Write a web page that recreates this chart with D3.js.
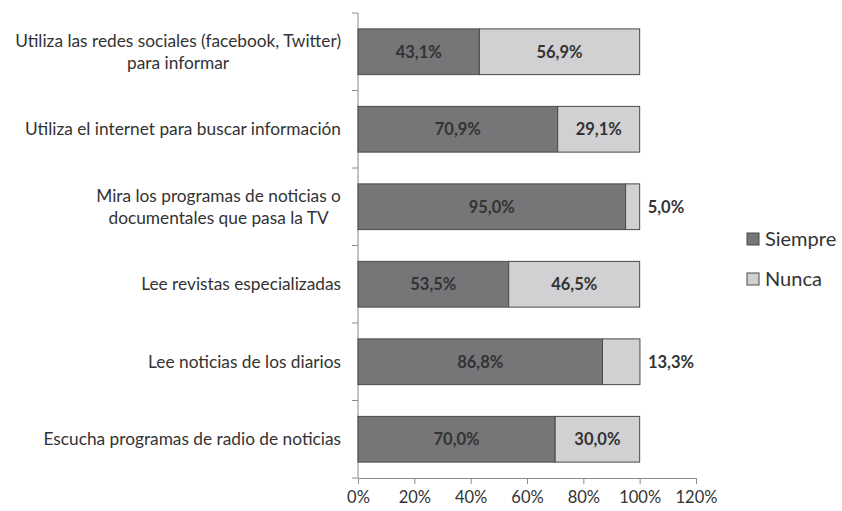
<!DOCTYPE html>
<html>
<head>
<meta charset="utf-8">
<script src="https://cdn.jsdelivr.net/npm/d3@7"></script>
<style>
  body { margin: 0; background: #fff; }
  svg { display: block; font-family: Lato, "Open Sans", sans-serif; }
</style>
</head>
<body>
<svg id="chart" width="842" height="511"></svg>
<script>
// Daten (von oben nach unten)
const categories = [
  ["Utiliza las redes sociales (facebook, Twitter)", "para informar"],
  ["Utiliza el internet para buscar información"],
  ["Mira los programas de noticias o", "documentales que pasa la TV"],
  ["Lee revistas especializadas"],
  ["Lee noticias de los diarios"],
  ["Escucha programas de radio de noticias"]
];
const siempre = [43.1, 70.9, 95.0, 53.5, 86.8, 70.0];
const nunca = [56.9, 29.1, 5.0, 46.5, 13.3, 30.0];
const seriesNames = ["Siempre", "Nunca"];
const xTicks = [0, 20, 40, 60, 80, 100, 120];

const svg = d3.select("#chart");
const margin = { top: 13, right: 146, bottom: 33, left: 358 };
const width = 842 - margin.left - margin.right;
const height = 511 - margin.top - margin.bottom;

const g = svg.append("g")
  .attr("transform", `translate(${margin.left},${margin.top})`);

const rows = categories.map((c, i) => ({ idx: i, label: c, siempre: siempre[i], nunca: nunca[i] }));

const xScale = d3.scaleLinear().domain([0, 120]).range([0, width]);
const yScale = d3.scaleBand()
  .domain(rows.map(d => d.idx))
  .range([0, height])
  .paddingInner(0.41)
  .paddingOuter(0.205);

const colors = { Siempre: "#767678", Nunca: "#d1d1d3" };

// y-Achse: Linie + Ticks an den Bandgrenzen
const bandStep = height / rows.length;
g.append("line")
  .attr("x1", 0).attr("x2", 0)
  .attr("y1", 0).attr("y2", height)
  .attr("stroke", "#8a8a8a");
g.selectAll(".ytick")
  .data(d3.range(rows.length + 1))
  .join("line")
  .attr("class", "ytick")
  .attr("x1", -6).attr("x2", 0)
  .attr("y1", d => d * bandStep).attr("y2", d => d * bandStep)
  .attr("stroke", "#8a8a8a");

// x-Achse
const xAxis = g.append("g")
  .attr("transform", `translate(0,${height})`)
  .call(d3.axisBottom(xScale).tickValues(xTicks).tickSize(6).tickFormat(d => d + "%"));
xAxis.select(".domain").attr("stroke", "#8a8a8a");
xAxis.selectAll(".tick line").attr("stroke", "#8a8a8a");
xAxis.selectAll(".tick text")
  .attr("y", 13)
  .attr("fill", "#333")
  .attr("font-size", "16.5px")
  .attr("font-family", "Lato, 'Open Sans', sans-serif");

// Balken
const stack = d3.stack().keys(["siempre", "nunca"]);
const series = stack(rows);
g.selectAll(".stack-group")
  .data(series)
  .join("g")
  .attr("class", "stack-group")
  .attr("fill", (d, i) => colors[seriesNames[i]])
  .selectAll("rect")
  .data(d => d)
  .join("rect")
  .attr("x", d => xScale(d[0]))
  .attr("y", d => yScale(d.data.idx))
  .attr("width", d => xScale(d[1]) - xScale(d[0]))
  .attr("height", yScale.bandwidth())
  .attr("stroke", "#4a4a4a")
  .attr("stroke-width", 1);

// Werte-Beschriftungen
series.forEach(s => {
  s.forEach(d => {
    const v = d[1] - d[0];
    const outside = s.key === "nunca" && v < 20;
    g.append("text")
      .attr("x", outside ? xScale(d[1]) + 8 : xScale((d[0] + d[1]) / 2))
      .attr("y", yScale(d.data.idx) + yScale.bandwidth() / 2)
      .attr("dy", "0.35em")
      .attr("text-anchor", outside ? "start" : "middle")
      .attr("font-size", "16.5px")
      .attr("font-weight", "bold")
      .attr("fill", "#333")
      .text(v.toFixed(1).replace(".", ",") + "%");
  });
});

// Kategorie-Beschriftungen (Zeilen zentriert, Block rechtsbündig)
rows.forEach(d => {
  const cy = yScale(d.idx) + yScale.bandwidth() / 2;
  const lh = 22;
  const t = g.append("text")
    .attr("text-anchor", "middle")
    .attr("font-size", "17.3px")
    .attr("fill", "#333");
  d.label.forEach((line, j) => {
    t.append("tspan")
      .attr("x", 0)
      .attr("y", cy + (j - (d.label.length - 1) / 2) * lh)
      .attr("dy", "0.35em")
      .text(line);
  });
  const w = t.node().getBBox().width;
  t.selectAll("tspan").attr("x", -17 - w / 2);
});

// Legende
const legend = svg.append("g")
  .attr("transform", "translate(747,233)");
const lg = legend.selectAll("g")
  .data(seriesNames)
  .join("g")
  .attr("transform", (d, i) => `translate(0,${i * 40})`);
lg.append("rect")
  .attr("width", 12).attr("height", 12)
  .attr("fill", d => colors[d])
  .attr("stroke", "#4a4a4a");
lg.append("text")
  .attr("x", 18).attr("y", 6)
  .attr("dy", "0.35em")
  .attr("font-size", "20px")
  .attr("fill", "#333")
  .text(d => d);
</script>
</body>
</html>
